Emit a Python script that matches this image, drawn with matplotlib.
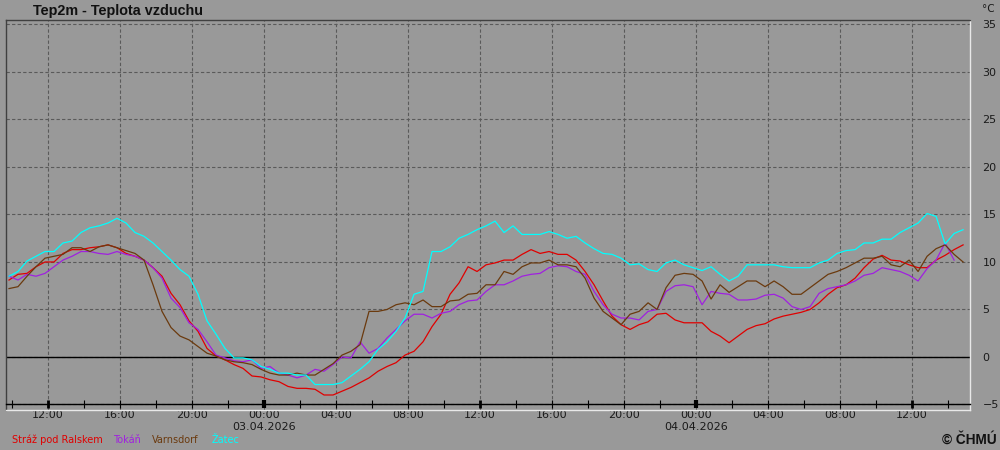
import matplotlib
matplotlib.use("Agg")
import matplotlib.pyplot as plt
import matplotlib.dates as mdates
import numpy as np
import pandas as pd

# 30-min samples, 02.04.2026 09:50 .. 04.04.2026 14:50
START = "2026-04-02 09:50"
STEP = "30min"

STRAZ = [
    8.1, 8.7, 8.8, 9.5, 10.0, 10.0, 10.9, 11.3, 11.3, 11.5, 11.6, 11.8, 11.5, 10.9, 10.6, 10.2, 9.4, 8.5,
    6.7, 5.5, 3.8, 2.7, 0.9, 0.1, -0.3, -0.8, -1.2, -2.0, -2.1, -2.4, -2.6, -3.1, -3.3, -3.3, -3.4, -4.0,
    -4.0, -3.6, -3.2, -2.7, -2.2, -1.5, -1.0, -0.6, 0.2, 0.6, 1.6, 3.2, 4.5, 6.6, 7.8, 9.5, 9.0, 9.7,
    9.9, 10.2, 10.2, 10.8, 11.3, 10.9, 11.1, 10.8, 10.8, 10.2, 9.0, 7.6, 5.9, 4.3, 3.4, 2.9, 3.4, 3.7,
    4.5, 4.6, 3.9, 3.6, 3.6, 3.6, 2.7, 2.2, 1.5, 2.2, 2.9, 3.3, 3.5, 4.0, 4.3, 4.5, 4.7, 5.0,
    5.7, 6.6, 7.3, 7.6, 8.3, 9.4, 10.3, 10.7, 10.2, 10.1, 9.7, 9.4, 9.4, 10.2, 10.7, 11.3, 11.8,
]
TOKAN = [
    8.5, 8.1, 8.7, 8.5, 8.8, 9.5, 10.2, 10.6, 11.1, 11.1, 10.9, 10.8, 11.1, 10.8, 10.6, 10.2, 9.4, 8.3,
    6.2, 5.2, 3.6, 2.9, 1.6, 0.2, -0.1, -0.4, -0.5, -0.3, -1.2, -1.0, -1.7, -1.9, -2.2, -1.9, -1.3, -1.5,
    -0.8, 0.0, -0.1, 1.6, 0.4, 0.9, 2.0, 2.9, 3.8, 4.5, 4.5, 4.1, 4.6, 4.8, 5.5, 5.9, 6.0, 6.9,
    7.6, 7.6, 8.0, 8.5, 8.7, 8.8, 9.4, 9.6, 9.5, 9.0, 8.7, 6.9, 5.5, 4.5, 4.1, 4.1, 3.9, 4.8,
    5.0, 6.9, 7.5, 7.6, 7.4, 5.5, 6.9, 6.7, 6.6, 6.0, 6.0, 6.1, 6.5, 6.6, 6.2, 5.3, 5.0, 5.3,
    6.7, 7.2, 7.4, 7.6, 8.0, 8.6, 8.8, 9.4, 9.2, 9.0, 8.6, 8.0, 9.3, 10.2, 12.0, 10.2, np.nan,
]
VARNSDORF = [
    7.2, 7.4, 8.5, 9.5, 10.4, 10.6, 10.8, 11.5, 11.5, 11.1, 11.6, 11.8, 11.5, 11.2, 10.9, 10.2, 7.6, 4.8,
    3.1, 2.2, 1.8, 1.1, 0.4, 0.1, -0.3, -0.5, -0.6, -0.8, -1.3, -1.7, -1.9, -1.9, -1.7, -1.9, -1.9, -1.3,
    -0.7, 0.2, 0.6, 1.3, 4.8, 4.8, 5.0, 5.5, 5.7, 5.5, 6.0, 5.3, 5.3, 5.9, 6.0, 6.6, 6.7, 7.6,
    7.6, 9.0, 8.7, 9.5, 9.9, 9.9, 10.2, 9.7, 9.7, 9.5, 8.3, 6.2, 4.8, 4.1, 3.4, 4.5, 4.8, 5.7,
    5.0, 7.3, 8.6, 8.8, 8.7, 8.0, 6.1, 7.6, 6.8, 7.4, 8.0, 8.0, 7.4, 8.0, 7.4, 6.6, 6.6, 7.3,
    8.0, 8.7, 9.0, 9.4, 9.9, 10.4, 10.4, 10.6, 9.7, 9.5, 10.2, 9.0, 10.6, 11.4, 11.8, 10.8, 10.0,
]
ZATEC = [
    8.5, 9.0, 10.1, 10.6, 11.1, 11.1, 12.0, 12.2, 13.1, 13.6, 13.8, 14.1, 14.6, 14.1, 13.1, 12.7, 12.0, 11.1,
    10.2, 9.2, 8.5, 6.6, 3.8, 2.4, 0.9, -0.1, -0.1, -0.3, -1.0, -1.3, -1.7, -1.7, -1.9, -1.9, -2.9, -2.9,
    -2.9, -2.7, -2.0, -1.3, -0.5, 0.8, 1.6, 2.7, 4.1, 6.6, 6.9, 11.1, 11.1, 11.6, 12.5, 12.9, 13.4, 13.8,
    14.3, 13.1, 13.8, 12.9, 12.9, 12.9, 13.2, 12.9, 12.5, 12.7, 12.0, 11.4, 10.9, 10.8, 10.4, 9.7, 9.8, 9.2,
    9.0, 9.9, 10.2, 9.7, 9.4, 9.1, 9.5, 8.7, 8.0, 8.5, 9.7, 9.7, 9.7, 9.7, 9.5, 9.4, 9.4, 9.4,
    9.9, 10.2, 10.9, 11.2, 11.3, 12.0, 12.0, 12.4, 12.4, 13.1, 13.6, 14.1, 15.1, 14.8, 11.9, 13.0, 13.4,
]

STATIONS = ["Stráž pod Ralskem", "Tokáň", "Varnsdorf", "Žatec"]
COLORS = ["#e00000", "#a020e0", "#6b3a0e", "#00ffff"]
LEGEND_X = [12, 113, 152, 212]

BG = "#999999"
W, H = 1000, 450


def fmt_time(x, pos=None):
    d = mdates.num2date(x)
    s = d.strftime("%H:%M")
    if d.hour == 0:
        s += "\n" + d.strftime("%d.%m.%Y")
    return s


def main() -> None:
    times = pd.date_range(START, periods=len(STRAZ), freq=STEP)
    series = [STRAZ, TOKAN, VARNSDORF, ZATEC]

    fig = plt.figure(figsize=(W / 100, H / 100), dpi=100, facecolor=BG)
    ax = fig.add_axes([6 / W, 1 - 410 / H, 964 / W, 390 / H], facecolor=BG)

    for vals, col in zip(series, COLORS):
        ax.plot(times, vals, color=col, lw=0.9, zorder=3)

    ax.axhline(0, color="black", lw=1.0, zorder=2)

    ax.set_xlim(pd.Timestamp("2026-04-02 09:40"), pd.Timestamp("2026-04-04 15:13"))
    ax.set_ylim(-5.58, 35.47)
    ax.set_yticks(np.arange(-5, 36, 5))

    ax.xaxis.set_major_locator(mdates.HourLocator(byhour=[0, 4, 8, 12, 16, 20]))
    ax.xaxis.set_minor_locator(mdates.HourLocator(byhour=[2, 6, 10, 14, 18, 22]))
    ax.xaxis.set_major_formatter(plt.FuncFormatter(fmt_time))

    ax.grid(True, which="major", ls=(0, (3, 2)), color="#5a5a5a", lw=0.8, zorder=1)

    ax.yaxis.tick_right()
    ax.tick_params(axis="y", length=0, pad=9, labelsize=8, labelcolor="#1a1a1a")
    ax.tick_params(axis="x", which="both", direction="inout", length=6, width=0.8,
                   color="black", labelsize=8, labelcolor="#1a1a1a", pad=1)
    for lab in ax.get_xticklabels() + ax.get_yticklabels():
        lab.set_family("DejaVu Sans")

    # bottom time axis at -5, frame around the plot
    ax.spines["bottom"].set_position(("data", -5))
    ax.spines["bottom"].set_color("black")
    ax.spines["bottom"].set_linewidth(1.0)
    ax.spines["top"].set_color("#404040")
    ax.spines["left"].set_color("#404040")
    ax.spines["right"].set_color("#e8e8e8")
    for s in ["top", "left", "right"]:
        ax.spines[s].set_linewidth(1.0)
    ax.plot([0, 1], [0, 0], transform=ax.transAxes, color="#e8e8e8", lw=1.0, clip_on=False, zorder=5)

    fig.canvas.draw()
    for tick in ax.xaxis.get_major_ticks():
        hour = mdates.num2date(tick.get_loc()).hour
        if hour == 0:
            tick.tick1line.set_markeredgewidth(3)
        elif hour == 12:
            tick.tick1line.set_markeredgewidth(2)

    fig.text(33 / W, 1 - 11 / H, "Tep2m - Teplota vzduchu", fontsize=10.4, fontweight="bold",
             family="Liberation Sans", color="#111111", va="center", ha="left")
    fig.text(988 / W, 1 - 9 / H, "°C", fontsize=7.5, family="DejaVu Sans", color="#1a1a1a",
             va="center", ha="center")

    for name, col, lx in zip(STATIONS, COLORS, LEGEND_X):
        fig.text(lx / W, 1 - 440 / H, name, fontsize=7, family="DejaVu Sans", color=col,
                 va="center", ha="left")

    fig.text(997 / W, 1 - 440 / H, "© ČHMÚ", fontsize=9.8, fontweight="bold",
             family="Liberation Sans", color="#111111", va="center", ha="right")

    fig.savefig("out.png", dpi=100, facecolor=BG)


if __name__ == "__main__":
    main()
